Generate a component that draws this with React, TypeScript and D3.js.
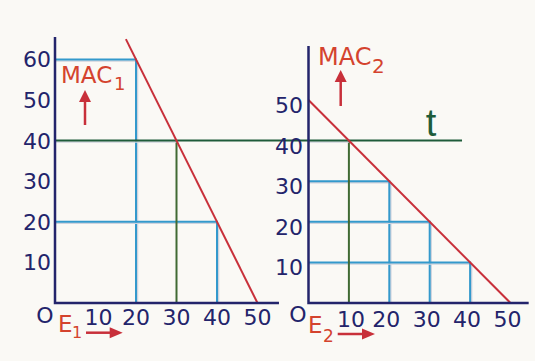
import React from 'react';
import * as d3 from 'd3';

// tick values and labels
const xTicks = [10, 20, 30, 40, 50];
const leftYTicks = [10, 20, 30, 40, 50, 60];
const rightYTicks = [10, 20, 30, 40, 50];

// marginal abatement cost curves (emissions, cost)
const mac1 = [
  { e: 17.5, mac: 65 },
  { e: 50, mac: 0 },
];
const mac2 = [
  { e: 0, mac: 50 },
  { e: 50, mac: 0 },
];

// blue guide corners
const leftGuides = [
  { e: 20, mac: 60 },
  { e: 40, mac: 20 },
];
const rightGuides = [
  { e: 20, mac: 30 },
  { e: 30, mac: 20 },
  { e: 40, mac: 10 },
];

// tax level and where it cuts each curve
const tax = 40;
const leftCut = { e: 30, mac: tax };
const rightCut = { e: 10, mac: tax };
const tEnd = 38; // in right-panel units

const NAVY = '#23246b';
const BLUE = '#3399cc';
const RED = '#c8303a';
const TEXT_RED = '#d4432e';
const GREEN = '#1e5c3a';
const OLIVE = '#406a33';
const SHADOW = '#cfd3dd';
const FONT = '"DejaVu Sans", sans-serif';

const W = 535;
const H = 361;

const y = d3.scaleLinear().domain([0, 60]).range([303, 59.4]);
const x1 = d3.scaleLinear().domain([0, 50]).range([55, 257.5]);
const x2 = d3.scaleLinear().domain([0, 50]).range([308.5, 510.5]);

const line = (xs: d3.ScaleLinear<number, number>) =>
  d3
    .line<{ e: number; mac: number }>()
    .x((d) => xs(d.e))
    .y((d) => y(d.mac));

const Guide = ({ xs, d, color }: any) => {
  const px = xs(d.e);
  const py = y(d.mac);
  const x0 = xs(0);
  const y0 = y(0);
  return (
    <g>
      <path d={`M${x0},${py + 1.5}H${px + 1.5}V${y0}`} fill="none" stroke={SHADOW} strokeWidth={1.5} />
      <path d={`M${x0},${py}H${px}V${y0}`} fill="none" stroke={color} strokeWidth={2} />
    </g>
  );
};

const UpArrow = ({ cx, y1, y2 }: any) => (
  <g fill={RED} stroke={RED}>
    <line x1={cx} x2={cx} y1={y1} y2={y2 + 10} strokeWidth={2.5} />
    <path d={`M${cx - 6},${y2 + 12}L${cx},${y2}L${cx + 6},${y2 + 12}Z`} stroke="none" />
  </g>
);

const RightArrow = ({ cy, x1, xEnd }: any) => (
  <g fill={RED} stroke={RED}>
    <line x1={x1} x2={xEnd - 10} y1={cy} y2={cy} strokeWidth={2.5} />
    <path d={`M${xEnd - 13},${cy - 5.5}L${xEnd},${cy}L${xEnd - 13},${cy + 5.5}Z`} stroke="none" />
  </g>
);

export default function App() {
  return (
    <svg
      width={W}
      height={H}
      style={{ position: 'absolute', left: 0, top: 0, background: '#faf9f5' }}
      fontFamily={FONT}
    >
      <rect width={W} height={H} fill="#faf9f5" />

      {/* guides */}
      {leftGuides.map((d, i) => (
        <Guide key={'l' + i} xs={x1} d={d} color={BLUE} />
      ))}
      {rightGuides.map((d, i) => (
        <Guide key={'r' + i} xs={x2} d={d} color={BLUE} />
      ))}

      {/* drop lines at the tax */}
      <line x1={x1(leftCut.e)} x2={x1(leftCut.e)} y1={y(0)} y2={y(leftCut.mac)} stroke={OLIVE} strokeWidth={2} />
      <line x1={x2(rightCut.e)} x2={x2(rightCut.e)} y1={y(0)} y2={y(rightCut.mac)} stroke={OLIVE} strokeWidth={2} />

      {/* tax line */}
      <line x1={x1(0)} x2={x1(leftCut.e)} y1={y(tax) + 1.5} y2={y(tax) + 1.5} stroke={SHADOW} strokeWidth={1.5} />
      <line x1={x2(0)} x2={x2(rightCut.e)} y1={y(tax) + 1.5} y2={y(tax) + 1.5} stroke={SHADOW} strokeWidth={1.5} />
      <line x1={x1(0)} x2={x2(tEnd)} y1={y(tax)} y2={y(tax)} stroke={GREEN} strokeWidth={2} />

      {/* MAC curves */}
      <path d={line(x1)(mac1) as string} fill="none" stroke={RED} strokeWidth={2} />
      <path d={line(x2)(mac2) as string} fill="none" stroke={RED} strokeWidth={2} />

      {/* axes */}
      <g stroke={NAVY} strokeWidth={2.5} fill="none">
        <path d={`M${x1(0)},${y(65.5)}V${y(0)}H${x1(55.3)}`} />
        <path d={`M${x2(0)},${y(63.3)}V${y(0)}H${x2(54.5)}`} />
      </g>

      {/* tick labels */}
      <g fill={NAVY} fontSize={22}>
        {leftYTicks.map((v) => (
          <text key={'ly' + v} x={51} y={y(v)} dy="0.36em" textAnchor="end">
            {v}
          </text>
        ))}
        {rightYTicks.map((v) => (
          <text key={'ry' + v} x={303} y={y(v) + 5} dy="0.36em" textAnchor="end">
            {v}
          </text>
        ))}
        {xTicks.map((v) => (
          <text key={'lx' + v} x={x1(v)} dx={v === 10 ? 3 : 0} y={317} dy="0.36em" textAnchor="middle">
            {v}
          </text>
        ))}
        {xTicks.map((v) => (
          <text key={'rx' + v} x={x2(v)} dx={v === 10 ? 2 : -3} y={319} dy="0.36em" textAnchor="middle">
            {v}
          </text>
        ))}
        <text x={45} y={315} dy="0.36em" textAnchor="middle">O</text>
        <text x={298} y={314} dy="0.36em" textAnchor="middle">O</text>
      </g>

      {/* curve labels */}
      <g fill={TEXT_RED}>
        <text x={61} y={83.3} fontSize={23}>MAC</text>
        <text x={114} y={90} fontSize={18}>1</text>
        <text x={318} y={65} fontSize={24}>MAC</text>
        <text x={372} y={73} fontSize={20}>2</text>
        <text x={58} y={331.7} fontSize={23}>E</text>
        <text x={72} y={338} fontSize={16}>1</text>
        <text x={308} y={332.7} fontSize={23}>E</text>
        <text x={323} y={341.7} fontSize={17}>2</text>
      </g>
      <text x={431} y={136} fontSize={38} fill={GREEN} textAnchor="middle" fontFamily='"Liberation Sans", sans-serif'>
        t
      </text>

      <UpArrow cx={85} y1={125} y2={90} />
      <UpArrow cx={340.7} y1={106} y2={70} />
      <RightArrow cy={332.7} x1={86} xEnd={122.7} />
      <RightArrow cy={334} x1={337.7} xEnd={375} />
    </svg>
  );
}
